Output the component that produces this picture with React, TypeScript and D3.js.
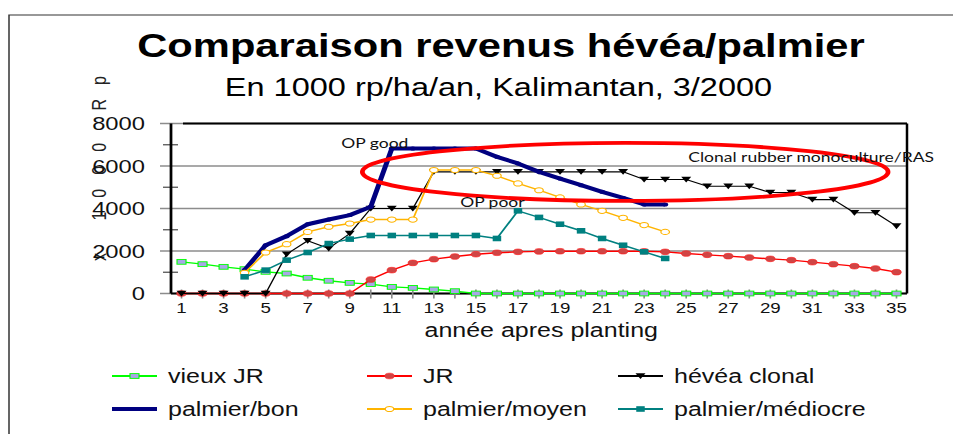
import * as d3 from "d3";

// ---- data ----
const years = [1, 2, 3, 4, 5, 6, 7, 8, 9, 10, 11, 12, 13, 14, 15, 16, 17, 18, 19, 20, 21, 22, 23, 24, 25, 26, 27, 28, 29, 30, 31, 32, 33, 34, 35];
const xTickLabels = [1, 3, 5, 7, 9, 11, 13, 15, 17, 19, 21, 23, 25, 27, 29, 31, 33, 35];
const yTicks = [0, 2000, 4000, 6000, 8000];
const yMinorTicks = [1000, 3000, 5000, 7000];

const vieuxJR = [1490, 1380, 1255, 1145, 1020, 940, 740, 600, 500, 440, 310, 265, 190, 110, 0, 0, 0, 0, 0, 0, 0, 0, 0, 0, 0, 0, 0, 0, 0, 0, 0, 0, 0, 0, 0];
const jr = [0, 0, 0, 0, 0, 0, 0, 0, 0, 660, 1100, 1440, 1615, 1740, 1850, 1915, 1960, 1980, 1990, 1990, 1990, 1990, 1985, 1960, 1880, 1820, 1757, 1694, 1630, 1570, 1475, 1380, 1286, 1176, 1004];
const heveaClonal = [0, 0, 0, 0, 0, 1850, 2480, 2120, 2820, 4000, 4000, 4000, 5725, 5725, 5725, 5725, 5725, 5725, 5725, 5725, 5725, 5725, 5365, 5365, 5365, 5050, 5050, 5050, 4750, 4750, 4420, 4420, 3800, 3800, 3170];
const palmierBon = [null, null, null, 1100, 2275, 2700, 3260, 3480, 3690, 4080, 6820, 6820, 6820, 6820, 6820, 6430, 6120, 5725, 5410, 5100, 4785, 4500, 4190, 4190, null, null, null, null, null, null, null, null, null, null, null];
const palmierMoyen = [null, null, null, 975, 1930, 2320, 2900, 3140, 3295, 3480, 3480, 3480, 5810, 5810, 5810, 5540, 5180, 4860, 4520, 4190, 3890, 3560, 3220, 2900, null, null, null, null, null, null, null, null, null, null, null];
const palmierMediocre = [null, null, null, 785, 1100, 1570, 1930, 2350, 2560, 2730, 2730, 2730, 2730, 2730, 2730, 2590, 3890, 3580, 3260, 2950, 2590, 2270, 1960, 1650, null, null, null, null, null, null, null, null, null, null, null];

const seriesNames = ["vieux JR", "JR", "hévéa clonal", "palmier/bon", "palmier/moyen", "palmier/médiocre"];
const seriesValues = [vieuxJR, jr, heveaClonal, palmierBon, palmierMoyen, palmierMediocre];

const annotations = [
  { text: "OP good", x: 8.6, y: 6850 },
  { text: "OP poor", x: 14.25, y: 4070 },
  { text: "Clonal rubber monoculture/RAS", x: 25.1, y: 6190 },
];
// highlight ellipse (centre and radii in data units)
const highlight = { cx: 22.1, cy: 5720, rx: 12.5, ry: 1365 };

// ---- styles ----
const styles = [
  { color: "#00ff00", width: 1.4, marker: "sqLav" },
  { color: "#ff0000", width: 1.4, marker: "circRed" },
  { color: "#000000", width: 1.1, marker: "tri" },
  { color: "#000080", width: 4, marker: "dotNavy" },
  { color: "#ffb400", width: 1.4, marker: "circOpen" },
  { color: "#008080", width: 1.5, marker: "sqTeal" },
];

const W = 953;
const H = 434;
const SX = 1.25; // the picture is stretched horizontally
const VW = W / SX;
const plot = { left: 136.8, right: 725.6, top: 123.5, bottom: 293.5 };
const FONT = "'Liberation Sans', Arial, sans-serif";

const x = d3.scaleLinear().domain([0.5, 35.5]).range([plot.left, plot.right]);
const y = d3.scaleLinear().domain([0, 8000]).range([plot.bottom, plot.top]);

function Marker({ type, cx, cy, color }: { type: string; cx: number; cy: number; color: string }) {
  switch (type) {
    case "sqLav":
      return <rect x={cx - 3.6} y={cy - 2.4} width={7.2} height={4.8} fill="#a8a8e6" stroke="#00ff00" strokeWidth={0.9} />;
    case "circRed":
      return <ellipse cx={cx} cy={cy} rx={3.8} ry={2.8} fill="#d04545" stroke="#ff2020" strokeWidth={0.6} />;
    case "tri":
      return <path d={`M${cx - 4},${cy - 2.8}L${cx + 4},${cy - 2.8}L${cx},${cy + 3}Z`} fill="#000" />;
    case "dotNavy":
      return <ellipse cx={cx} cy={cy} rx={2.4} ry={2} fill={color} />;
    case "circOpen":
      return <ellipse cx={cx} cy={cy} rx={3.4} ry={2.6} fill="#fff" stroke={color} strokeWidth={1} />;
    case "sqTeal":
      return <rect x={cx - 3.4} y={cy - 2.8} width={6.8} height={5.6} fill={color} />;
    default:
      return null;
  }
}

export default function App() {
  const line = d3
    .line<number | null>()
    .defined((d) => d !== null)
    .x((_, i) => x(years[i]))
    .y((d) => y(d as number));

  const legendCol = [89.6, 293.6, 494.4];
  const legendRow = [376, 409];

  return (
    <svg
      width={W}
      height={H}
      viewBox={`0 0 ${VW} ${H}`}
      preserveAspectRatio="none"
      style={{ position: "absolute", left: 0, top: 0, background: "#fff" }}
    >
      {/* outer frame */}
      <path d={`M7.2,${H}V15H${VW}`} fill="none" stroke="#333" strokeWidth={1.2} />

      {/* titles */}
      <text x={400.8} y={57} textAnchor="middle" fontFamily={FONT} fontWeight="bold" fontSize={33} textLength={582} lengthAdjust="spacingAndGlyphs">
        Comparaison revenus hévéa/palmier
      </text>
      <text x={398.8} y={96} textAnchor="middle" fontFamily={FONT} fontSize={26}>
        En 1000 rp/ha/an, Kalimantan, 3/2000
      </text>

      {/* y axis title */}
      <text transform="translate(85,261) rotate(-90)" fontFamily={FONT} fontSize={16} letterSpacing={14} fill="#222">
        x 1000 Rp
      </text>

      {/* grid */}
      {yTicks.map((t) => (
        <line key={t} x1={128} x2={plot.right} y1={y(t)} y2={y(t)} stroke="#8c8c8c" strokeWidth={1.5} />
      ))}
      {yMinorTicks.map((t) => (
        <line key={t} x1={130.4} x2={142.4} y1={y(t)} y2={y(t)} stroke="#555" strokeWidth={1.3} />
      ))}
      {yTicks.map((t) => (
        <text key={t} x={116} y={y(t)} dy="0.36em" textAnchor="end" fontFamily={FONT} fontSize={19} fill="#111">
          {t}
        </text>
      ))}

      {/* frame */}
      <line x1={146.4} x2={plot.right} y1={plot.top} y2={plot.top} stroke="#000" strokeWidth={2} />
      <line x1={plot.right} x2={plot.right} y1={plot.top} y2={plot.bottom} stroke="#000" strokeWidth={2} />
      <line x1={plot.left} x2={plot.left} y1={plot.top} y2={plot.bottom} stroke="#000" strokeWidth={2.2} />
      <line x1={plot.left} x2={plot.right} y1={plot.bottom} y2={plot.bottom} stroke="#000" strokeWidth={2} />

      {/* x ticks */}
      {years.map((yr) => (
        <line key={yr} x1={x(yr)} x2={x(yr)} y1={plot.bottom - 4} y2={plot.bottom + 5} stroke="#888" strokeWidth={1.3} />
      ))}
      {xTickLabels.map((yr) => (
        <text key={yr} x={x(yr)} y={313.5} textAnchor="middle" fontFamily={FONT} fontSize={15} fill="#111">
          {yr}
        </text>
      ))}
      <text x={433} y={337} textAnchor="middle" fontFamily={FONT} fontSize={20} fill="#111">
        année apres planting
      </text>

      {/* series */}
      {seriesValues.map((vals, si) => (
        <g key={seriesNames[si]}>
          <path d={line(vals) ?? ""} fill="none" stroke={styles[si].color} strokeWidth={styles[si].width} strokeLinejoin="round" />
          {vals.map((v, i) =>
            v === null ? null : <Marker key={i} type={styles[si].marker} cx={x(years[i])} cy={y(v)} color={styles[si].color} />
          )}
        </g>
      ))}

      {/* highlight ellipse */}
      <ellipse
        cx={x(highlight.cx)}
        cy={y(highlight.cy)}
        rx={x(highlight.cx + highlight.rx) - x(highlight.cx)}
        ry={y(highlight.cy - highlight.ry) - y(highlight.cy)}
        fill="none"
        stroke="#ff0000"
        strokeWidth={3.8}
      />

      {/* annotations */}
      {annotations.map((a) => (
        <text key={a.text} x={x(a.x)} y={y(a.y)} fontFamily="Lato, 'Open Sans', sans-serif" fontSize={14} fill="#111">
          {a.text}
        </text>
      ))}

      {/* legend */}
      {seriesNames.map((name, i) => {
        const lx = legendCol[i % 3];
        const ly = legendRow[Math.floor(i / 3)];
        return (
          <g key={name}>
            <line x1={lx} x2={lx + 36} y1={ly} y2={ly} stroke={styles[i].color} strokeWidth={styles[i].width === 4 ? 4 : 2} />
            <Marker type={styles[i].marker} cx={lx + 18} cy={ly} color={styles[i].color} />
            <text x={lx + 44.8} y={ly + 7} fontFamily={FONT} fontSize={20} fill="#111">
              {name}
            </text>
          </g>
        );
      })}
    </svg>
  );
}
